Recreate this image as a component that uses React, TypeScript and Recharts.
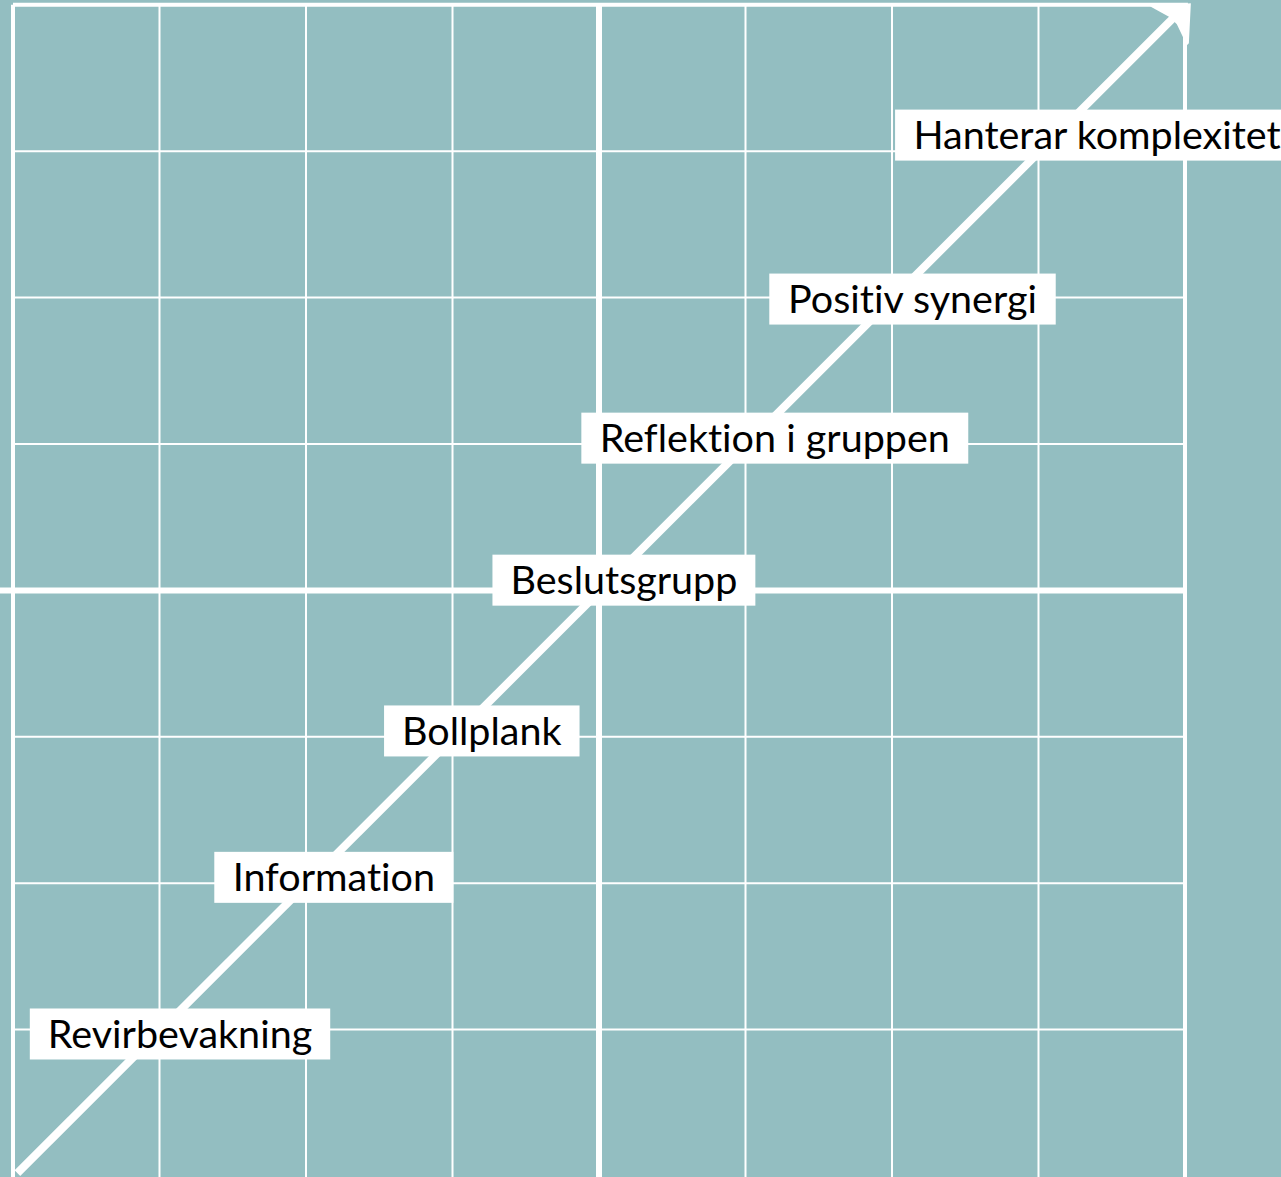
import { ComposedChart, Line, ReferenceLine, Scatter, XAxis, YAxis } from "recharts";

// stages along the diagonal (bottom-left to top-right)
const stages = [
  "Revirbevakning",
  "Information",
  "Bollplank",
  "Beslutsgrupp",
  "Reflektion i gruppen",
  "Positiv synergi",
  "Hanterar komplexitet",
];
const stageX = [1.14, 2.19, 3.2, 4.17, 5.2, 6.14, 7.4];
const stageY = [0.97, 2.04, 3.04, 4.07, 5.04, 5.99, 7.11];

const gridTicks = [0, 1, 2, 3, 4, 5, 6, 7, 8];
const trendX = [0.03, 8.0];
const trendY = [0.02, 7.99];
const arrowTip = [{ x: 8.04, y: 8.01 }];

const W = 1281;
const H = 1177;
const BG = "#93bec1";
const FONT = "Lato, 'Open Sans', sans-serif";
const FONT_SIZE = 39.5;

const X_DOMAIN: [number, number] = [-13 / 146.5, (W - 13) / 146.5];
const Y_DOMAIN: [number, number] = [(1176 - H) / 146.4, 1176 / 146.4];

let ctx: CanvasRenderingContext2D | null = null;
function textWidth(s: string): number {
  if (!ctx) ctx = document.createElement("canvas").getContext("2d");
  if (!ctx) return s.length * FONT_SIZE * 0.5;
  ctx.font = `${FONT_SIZE}px Lato`;
  return ctx.measureText(s).width;
}

function lineWidth(t: number): number {
  if (t === 4) return 6;
  if (t === 0 || t === 8) return 4;
  return 2;
}

const stageData = stages.map((name, i) => ({ name, x: stageX[i], y: stageY[i] }));
const trendData = trendX.map((x, i) => ({ x, y: trendY[i] }));

function StageBox(props: any) {
  const { cx, cy, payload } = props;
  const w = textWidth(payload.name) + 36;
  return (
    <g>
      <rect x={cx - w / 2} y={cy - 25.5} width={w} height={51} fill="#ffffff" />
      <text
        x={cx}
        y={cy + 14}
        textAnchor="middle"
        fontFamily={FONT}
        fontSize={FONT_SIZE}
        fill="#000000"
        style={{ fontVariantLigatures: "none", fontFeatureSettings: '"liga" 0, "clig" 0' }}
      >
        {payload.name}
      </text>
    </g>
  );
}

function ArrowHead(props: any) {
  const { cx, cy } = props;
  const pts = [
    [0, 0],
    [-41, 3],
    [-21, 14],
    [-14, 21],
    [-4, 42],
    [-2, 40],
  ]
    .map(([dx, dy]) => `${cx + dx},${cy + dy}`)
    .join(" ");
  return <polygon points={pts} fill="#ffffff" />;
}

export default function App() {
  return (
    <div style={{ position: "absolute", left: 0, top: 0, width: W, height: H, background: BG }}>
      <ComposedChart width={W} height={H} margin={{ top: 0, right: 0, bottom: 0, left: 0 }}>
        <XAxis type="number" dataKey="x" domain={X_DOMAIN} hide allowDataOverflow />
        <YAxis type="number" dataKey="y" domain={Y_DOMAIN} hide allowDataOverflow />
        {gridTicks.map((t) => (
          <ReferenceLine
            key={`v${t}`}
            segment={[
              { x: t, y: Y_DOMAIN[0] },
              { x: t, y: 8 },
            ]}
            stroke="#ffffff"
            strokeWidth={lineWidth(t)}
            ifOverflow="visible"
          />
        ))}
        {gridTicks
          .filter((t) => t > 0)
          .map((t) => (
            <ReferenceLine
              key={`h${t}`}
              segment={[
                { x: t === 4 ? X_DOMAIN[0] : 0, y: t },
                { x: t === 8 ? 8.02 : 8, y: t },
              ]}
              stroke="#ffffff"
              strokeWidth={lineWidth(t)}
              ifOverflow="visible"
            />
          ))}
        <Line
          data={trendData}
          dataKey="y"
          type="linear"
          stroke="#ffffff"
          strokeWidth={8}
          dot={false}
          activeDot={false}
          isAnimationActive={false}
        />
        <Scatter data={arrowTip} dataKey="y" shape={ArrowHead} isAnimationActive={false} />
        <Scatter data={stageData} dataKey="y" shape={StageBox} isAnimationActive={false} />
      </ComposedChart>
    </div>
  );
}
